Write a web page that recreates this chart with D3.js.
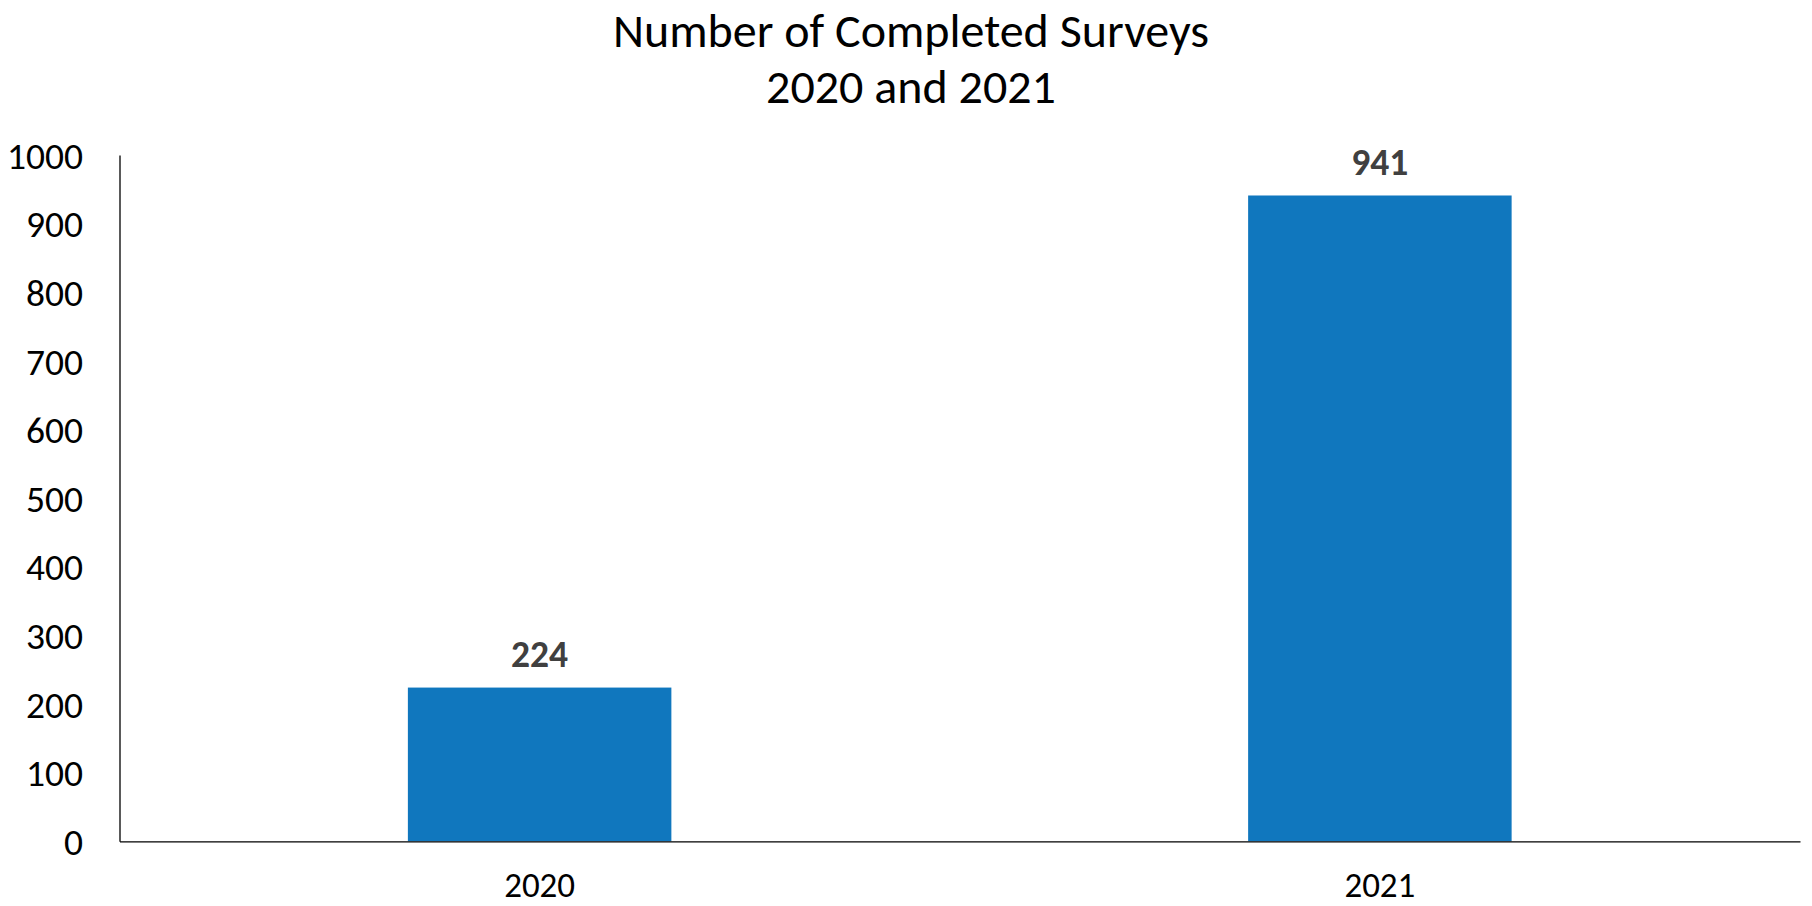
<!DOCTYPE html>
<html>
<head>
<meta charset="utf-8">
<script src="https://cdn.jsdelivr.net/npm/d3@7"></script>
<style>
  html, body { margin: 0; padding: 0; background: #fff; }
  svg { display: block; }
  text { font-family: Carlito, Lato, "Open Sans", sans-serif; }
</style>
</head>
<body>
<svg id="chart" width="1812" height="906"></svg>
<script>
// Chart data
const titleLines = ["Number of Completed Surveys", "2020 and 2021"];
const years = ["2020", "2021"];
const surveys = [224, 941];
const yTicks = [0, 100, 200, 300, 400, 500, 600, 700, 800, 900, 1000];
const yMax = 1000;

const svg = d3.select("#chart");
const W = 1812, H = 906;
const margin = { left: 119.5, right: 12, top: 155, bottom: 64.7 };
const plotW = W - margin.left - margin.right;
const plotH = H - margin.top - margin.bottom;

const g = svg.append("g").attr("transform", `translate(${margin.left},${margin.top})`);

const x = d3.scaleBand()
  .domain(years)
  .range([0, plotW])
  .paddingInner(0.6864)
  .paddingOuter(0.6864 / 2);

const y = d3.scaleLinear().domain([0, yMax]).range([plotH, 0]);

// Title
svg.append("g").selectAll("text")
  .data(titleLines)
  .join("text")
  .attr("x", 911)
  .attr("y", (d, i) => 47 + i * 56)
  .attr("text-anchor", "middle")
  .attr("font-size", 48)
  .attr("fill", "#000")
  .text(d => d);

// Bars
g.selectAll("rect.bar")
  .data(years.map((k, i) => ({ year: k, value: surveys[i] })))
  .join("rect")
  .attr("class", "bar")
  .attr("x", d => x(d.year))
  .attr("width", x.bandwidth())
  .attr("y", d => y(d.value))
  .attr("height", d => plotH - y(d.value))
  .attr("fill", "#1077BE");

// Value labels
g.selectAll("text.val")
  .data(years.map((k, i) => ({ year: k, value: surveys[i] })))
  .join("text")
  .attr("class", "val")
  .attr("x", d => x(d.year) + x.bandwidth() / 2)
  .attr("y", d => y(d.value) - 21)
  .attr("text-anchor", "middle")
  .attr("font-size", 37.5)
  .attr("font-weight", "bold")
  .attr("fill", "#404040")
  .text(d => d.value);

// Y axis
const yAxis = g.append("g")
  .call(d3.axisLeft(y).tickValues(yTicks).tickSize(0).tickPadding(36.5).tickFormat(d3.format("d")));
yAxis.select(".domain").attr("stroke", "#000").attr("stroke-width", 1.3);
yAxis.selectAll("text")
  .attr("font-size", 37.5)
  .attr("fill", "#000")
  .attr("dy", "0.35em");

// X axis
const xAxis = g.append("g")
  .attr("transform", `translate(0,${plotH})`)
  .call(d3.axisBottom(x).tickSize(0).tickPadding(0));
xAxis.select(".domain").attr("stroke", "#000").attr("stroke-width", 1.3);
xAxis.selectAll("text")
  .attr("font-size", 35)
  .attr("fill", "#000")
  .attr("y", 56)
  .attr("dy", null);
</script>
</body>
</html>
